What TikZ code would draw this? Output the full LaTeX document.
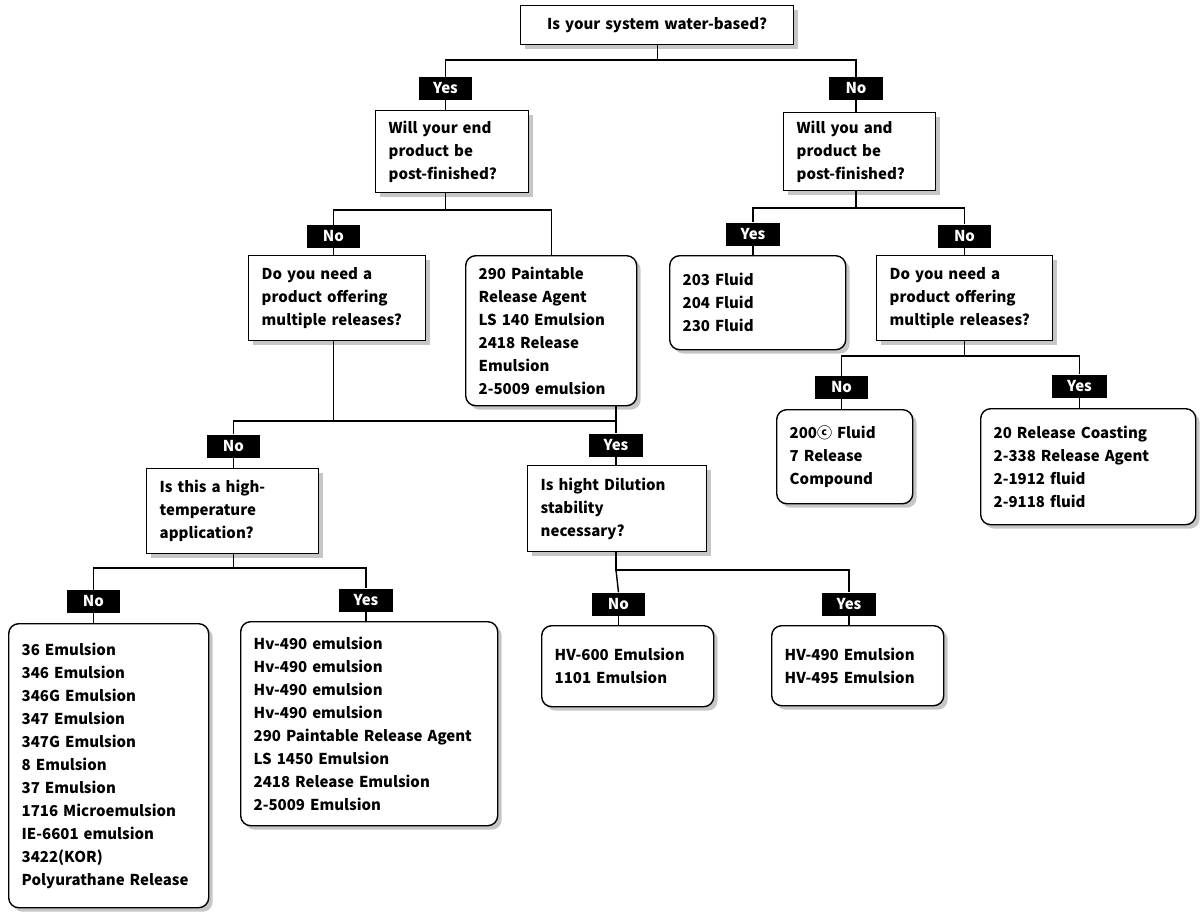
\documentclass[tikz,border=0pt]{standalone}
\usepackage{fontspec}
\setmainfont{Noto Sans CJK KR}
\usetikzlibrary{shadows}
\begin{document}
\newcommand\bx[7]{\pgfmathsetmacro\bw{#4-#2}\pgfmathsetmacro\bh{#5-#3}\pgfmathsetmacro\tw{#4-#2-26}%
\node[#1,anchor=north west,minimum width=\bw pt,minimum height=\bh pt,text width=\tw pt] (#6) at (#2,#3) {#7};}
\newcommand\lb[5]{\pgfmathsetmacro\lw{#4-#2}\pgfmathsetmacro\lx{(#2+#4)/2}%
\node[lab,minimum width=\lw pt,minimum height=23pt] (#1) at (\lx,#3) {#5};}
\begin{tikzpicture}[x=1pt,y=-1pt,
  base/.style={draw=black,line width=1.4pt,fill=white,inner xsep=13pt,inner ysep=0pt,align=left,
    font=\fontsize{15}{23}\selectfont\bfseries,
    drop shadow={shadow xshift=4pt,shadow yshift=-4pt,fill=gray!45,opacity=1}},
  sq/.style={base},
  rd/.style={base,rounded corners=10pt},
  lab/.style={fill=black,text=white,inner sep=0pt,font=\fontsize{15}{18}\selectfont\bfseries},
  ln/.style={line width=1.4pt}]
\useasboundingbox (0,0) rectangle (1200,924);
\bx{sq,align=center}{520}{5}{793}{44}{top}{Is your system water-based?}
\bx{sq}{375}{110}{528}{192}{b1}{Will your end product be post-finished?}
\bx{sq}{783}{112}{935}{190}{b2}{Will you and product be post-finished?}
\bx{sq}{248}{255}{425}{340}{b3}{Do you need a product offering multiple releases?}
\bx{rd}{465}{255}{636}{405}{b4}{290 Paintable\\Release Agent\\LS 140 Emulsion\\2418 Release\\Emulsion\\2-5009 emulsion}
\bx{sq}{146}{468}{318}{553}{b5}{Is this a high-\\temperature\\application?}
\bx{sq}{527}{465}{706}{551}{b6}{Is hight Dilution\\stability\\necessary?}
\bx{rd}{8}{623}{208}{907}{b7}{36 Emulsion\\346 Emulsion\\346G Emulsion\\347 Emulsion\\347G Emulsion\\8 Emulsion\\37 Emulsion\\1716 Microemulsion\\IE-6601 emulsion\\3422(KOR)\\Polyurathane Release}
\bx{rd}{240}{621}{497}{825}{b8}{Hv-490 emulsion\\Hv-490 emulsion\\Hv-490 emulsion\\Hv-490 emulsion\\290 Paintable Release Agent\\LS 1450 Emulsion\\2418 Release Emulsion\\2-5009 Emulsion}
\bx{rd}{541}{625}{713}{706}{b9}{HV-600 Emulsion\\1101 Emulsion}
\bx{rd}{771}{625}{943}{705}{b10}{HV-490 Emulsion\\HV-495 Emulsion}
\bx{rd}{669}{255}{845}{349}{b11}{203 Fluid\\204 Fluid\\230 Fluid}
\bx{sq}{876}{255}{1052}{340}{b12}{Do you need a\\product offering\\multiple releases?}
\bx{rd}{776}{409}{912}{503}{b13}{200ⓒ Fluid\\7 Release\\Compound}
\bx{rd}{980}{408}{1195}{524}{b14}{20 Release Coasting\\2-338 Release Agent\\2-1912 fluid\\2-9118 fluid}
\lb{ly1}{419}{88.5}{472}{Yes}
\lb{ln1}{829}{88.5}{883}{No}
\lb{ln2}{307}{236.5}{360}{No}
\lb{ln3}{207}{446}{260}{No}
\lb{ly3}{589}{445}{643}{Yes}
\lb{ln4}{67}{601.5}{120}{No}
\lb{ly4}{339}{600}{393}{Yes}
\lb{ln5}{592}{604}{645}{No}
\lb{ly5}{822}{604}{876}{Yes}
\lb{ly2}{726}{234}{780}{Yes}
\lb{ln6}{938}{236}{991}{No}
\lb{ln7}{815}{387.5}{868}{No}
\lb{ly7}{1052}{386}{1107}{Yes}
% connectors
\draw[ln] (top.south) -- (top.south|-0,60) -| (ly1.north);
\draw[ln] (top.south|-0,60) -| (ln1.north);
\draw[ln] (ly1.south) -- (b1.north-|ly1.south);
\draw[ln] (ln1.south) -- (b2.north-|ln1.south);
\draw[ln] (b1.south-|ly1.south) -- (ly1.south|-0,210) -| (ln2.north);
\draw[ln] (ly1.south|-0,210) -| (b4.north);
\draw[ln] (ln2.south) -- (b3.north-|ln2.south);
\draw[ln] (b3.south-|ln2.south) -- (ln2.south|-0,421) -| (ln3.north);
\draw[ln] (ly3.north|-b4.south) -- (ly3.north);
\draw[ln] (ln2.south|-0,421) -- (ly3.north|-0,421);
\draw[ln] (ln3.south) -- (b5.north-|ln3.south);
\draw[ln] (ly3.south) -- (b6.north-|ly3.south);
\draw[ln] (b5.south-|ln3.south) -- (ln3.south|-0,568) -| (ln4.north);
\draw[ln] (ln3.south|-0,568) -| (ly4.north);
\draw[ln] (ln4.south) -- (b7.north-|ln4.south);
\draw[ln] (ly4.south) -- (b8.north-|ly4.south);
\draw[ln] (b6.south-|ly3.south) -- (ly3.south|-0,570) -| (ly5.north);
\draw[ln] (ly3.south|-0,570) -- (ln5.north);
\draw[ln] (ln5.south) -- (b9.north-|ln5.south);
\draw[ln] (ly5.south) -- (b10.north-|ly5.south);
\draw[ln] (b2.south-|ln1.south) -- (ln1.south|-0,208) -| (ly2.north);
\draw[ln] (ln1.south|-0,208) -| (ln6.north);
\draw[ln] (ly2.south) -- (b11.north-|ly2.south);
\draw[ln] (ln6.south) -- (b12.north-|ln6.south);
\draw[ln] (b12.south-|ln6.south) -- (ln6.south|-0,356) -| (ln7.north);
\draw[ln] (ln6.south|-0,356) -| (ly7.north);
\draw[ln] (ln7.south) -- (b13.north-|ln7.south);
\draw[ln] (ly7.south) -- (b14.north-|ly7.south);
\end{tikzpicture}
\end{document}
